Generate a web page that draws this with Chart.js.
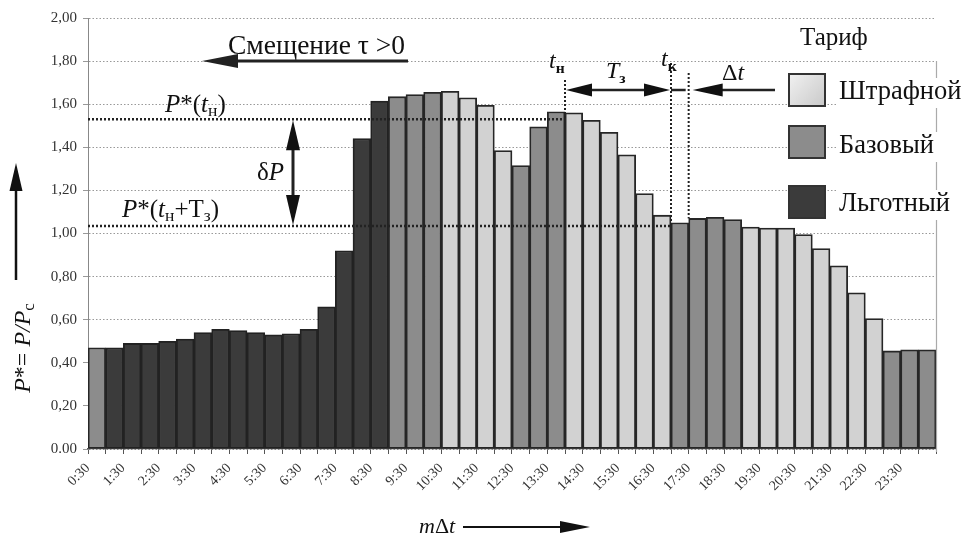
<!DOCTYPE html>
<html>
<head>
<meta charset="utf-8">
<script src="https://cdn.jsdelivr.net/npm/chart.js@4"></script>
<style>
html,body{margin:0;padding:0;background:#fff;}
#c{display:block;}
</style>
</head>
<body>
<canvas id="c" width="968" height="537"></canvas>
<script>
// ---- data ----
const labels = ['0:30','1:00','1:30','2:00','2:30','3:00','3:30','4:00','4:30','5:00','5:30','6:00',
  '6:30','7:00','7:30','8:00','8:30','9:00','9:30','10:00','10:30','11:00','11:30','12:00',
  '12:30','13:00','13:30','14:00','14:30','15:00','15:30','16:00','16:30','17:00','17:30','18:00',
  '18:30','19:00','19:30','20:00','20:30','21:00','21:30','22:00','22:30','23:00','23:30','24:00'];
const values = [0.47,0.47,0.49,0.49,0.50,0.51,0.54,0.555,0.55,0.54,0.53,0.535,
  0.555,0.66,0.92,1.44,1.615,1.635,1.645,1.655,1.66,1.63,1.595,1.385,
  1.315,1.495,1.565,1.56,1.525,1.47,1.365,1.185,1.085,1.05,1.07,1.075,
  1.065,1.03,1.025,1.025,0.995,0.93,0.85,0.725,0.605,0.455,0.46,0.46];
// Ш = Штрафной, Б = Базовый, Л = Льготный
const tariff = ['Б','Л','Л','Л','Л','Л','Л','Л','Л','Л','Л','Л',
  'Л','Л','Л','Л','Л','Б','Б','Б','Ш','Ш','Ш','Ш',
  'Б','Б','Б','Ш','Ш','Ш','Ш','Ш','Ш','Б','Б','Б',
  'Б','Ш','Ш','Ш','Ш','Ш','Ш','Ш','Ш','Б','Б','Б'];
const seriesNames = ['Штрафной','Базовый','Льготный'];
const seriesCodes = ['Ш','Б','Л'];
const yTickLabels = ['0.00','0,20','0,40','0,60','0,80','1,00','1,20','1,40','1,60','1,80','2,00'];
const P_tn = 1.53;     // P*(tн)
const P_tnT = 1.035;   // P*(tн+Tз)
const idx_tn = 27, idx_tk = 33, idx_dt = 34;  // bar edges of tн, tк, tк+Δt

// ---- styles ----
const FONT = '"Liberation Serif","DejaVu Serif",serif';
const fills = ['#d2d2d2','#8c8c8c','#3b3b3b'];
const borders = ['#262626','#262626','#222222'];

const datasets = seriesCodes.map((code,k)=>({
  label: seriesNames[k],
  data: values.map((v,i)=> tariff[i]===code ? v : null),
  backgroundColor: fills[k],
  borderColor: borders[k],
  borderWidth: 1.8,
  borderSkipped: false,
  categoryPercentage: 1.0,
  barPercentage: 1.0
}));

function rich(ctx, x, y, parts, size, align){
  let w = 0;
  const m = parts.map(p=>{
    const s = size*(p.s||1);
    const f = (p.i?'italic ':'') + (p.b?'bold ':'') + s + 'px ' + FONT;
    ctx.font = f;
    const ww = ctx.measureText(p.t).width;
    w += ww;
    return {f, ww, p};
  });
  let cx = align==='center' ? x - w/2 : (align==='right' ? x - w : x);
  ctx.textAlign = 'left';
  ctx.textBaseline = 'alphabetic';
  m.forEach(o=>{
    ctx.font = o.f;
    ctx.fillText(o.p.t, cx, y + (o.p.dy||0));
    cx += o.ww;
  });
}
function head(ctx, x2, y2, ang, len, hw){
  ctx.beginPath();
  ctx.moveTo(x2, y2);
  ctx.lineTo(x2 - len*Math.cos(ang) - hw*Math.sin(ang), y2 - len*Math.sin(ang) + hw*Math.cos(ang));
  ctx.lineTo(x2 - len*Math.cos(ang) + hw*Math.sin(ang), y2 - len*Math.sin(ang) - hw*Math.cos(ang));
  ctx.closePath();
  ctx.fill();
}
function arrow(ctx, x1, y1, x2, y2, len, hw, lw, both){
  const ang = Math.atan2(y2-y1, x2-x1);
  ctx.lineWidth = lw;
  ctx.setLineDash([]);
  ctx.beginPath();
  ctx.moveTo(x1 + (both? len*0.8*Math.cos(ang):0), y1 + (both? len*0.8*Math.sin(ang):0));
  ctx.lineTo(x2 - len*0.8*Math.cos(ang), y2 - len*0.8*Math.sin(ang));
  ctx.stroke();
  head(ctx, x2, y2, ang, len, hw);
  if (both) head(ctx, x1, y1, ang+Math.PI, len, hw);
}
function dotted(ctx, x1,y1,x2,y2, lw, dash){
  ctx.lineWidth = lw;
  ctx.setLineDash(dash);
  ctx.beginPath(); ctx.moveTo(x1,y1); ctx.lineTo(x2,y2); ctx.stroke();
  ctx.setLineDash([]);
}

const annot = {
  id:'annot',
  beforeDraw(chart){
    const ctx = chart.ctx;
    ctx.save(); ctx.fillStyle='#fff'; ctx.fillRect(0,0,chart.width,chart.height); ctx.restore();
  },
  afterDraw(chart){
    const ctx = chart.ctx, xs = chart.scales.x, ys = chart.scales.y;
    const bw = (xs.right - xs.left)/labels.length;
    const edge = i => xs.getPixelForValue(i) - bw/2;
    const tn = edge(idx_tn), tk = edge(idx_tk), td = edge(idx_dt);
    const yPn = ys.getPixelForValue(P_tn), yPk = ys.getPixelForValue(P_tnT);
    ctx.save();
    ctx.strokeStyle = '#222'; ctx.fillStyle = '#222';

    // right frame line
    ctx.strokeStyle = '#aaa';
    dotted(ctx, xs.right+0.5, ys.getPixelForValue(1.8), xs.right+0.5, ys.bottom+3, 1.2, []);
    ctx.strokeStyle = '#222';

    // horizontal P* lines
    dotted(ctx, xs.left, yPn, tn, yPn, 2.5, [2,2]);
    dotted(ctx, xs.left, yPk, tk, yPk, 2.5, [2,2]);
    // vertical t lines
    dotted(ctx, tn, 80, tn, yPn, 2, [2,2]);
    dotted(ctx, tk, 63, tk, yPk, 2, [2,2]);
    dotted(ctx, td, 73, td, ys.getPixelForValue(values[idx_dt]), 2, [2,2]);

    // Смещение arrow
    const y18 = ys.getPixelForValue(1.8);
    arrow(ctx, 408, y18, 202, y18, 36, 7, 3, false);
    ctx.fillStyle = '#111';
    rich(ctx, 228, 54, [{t:'Смещение τ >0'}], 27.5, 'left');

    // T_з arrow
    arrow(ctx, tn+1, 90, tk-1, 90, 26, 6.5, 2.5, true);
    // Δt
    dotted(ctx, tk, 90, td-3, 90, 2.5, []);
    arrow(ctx, 775, 90, td+4, 90, 30, 6.5, 2.5, false);

    // δP arrow
    arrow(ctx, 293, yPn+1, 293, yPk-1, 30, 7, 3, true);

    // texts
    ctx.fillStyle = '#111';
    rich(ctx, 165, 112, [{t:'P',i:1},{t:'*(',},{t:'t',i:1},{t:'н',s:0.7,dy:4},{t:')'}], 25, 'left');
    rich(ctx, 122, 217, [{t:'P',i:1},{t:'*(',},{t:'t',i:1},{t:'н',s:0.7,dy:4},{t:'+T'},{t:'з',s:0.7,dy:4},{t:')'}], 25, 'left');
    rich(ctx, 257, 180, [{t:'δ'},{t:'P',i:1}], 25, 'left');
    rich(ctx, 549, 68, [{t:'t',i:1},{t:'н',s:0.65,b:1,dy:5}], 24, 'left');
    rich(ctx, 606, 78, [{t:'T',i:1},{t:'з',s:0.65,b:1,dy:5}], 24, 'left');
    rich(ctx, 661, 66, [{t:'t',i:1},{t:'к',s:0.65,b:1,dy:5}], 24, 'left');
    rich(ctx, 722, 80, [{t:'Δ'},{t:'t',i:1}], 24, 'left');

    // legend
    rich(ctx, 800, 45, [{t:'Тариф'}], 25, 'left');
    const lg = [[73,99,'Штрафной'],[125,153,'Базовый'],[185,211,'Льготный']];
    lg.forEach((r,k)=>{
      ctx.font = '26.5px ' + FONT;
      const tw = ctx.measureText(r[2]).width;
      ctx.fillStyle = '#fff';
      ctx.fillRect(836, r[1]-21, tw+8, 30);
      if (k===0){
        const g = ctx.createLinearGradient(788, r[0], 826, r[0]+34);
        g.addColorStop(0,'#f2f2f2'); g.addColorStop(1,'#c8c8c8');
        ctx.fillStyle = g;
      } else ctx.fillStyle = fills[k];
      ctx.fillRect(788, r[0], 38, 34);
      ctx.strokeStyle = '#333'; ctx.lineWidth = 2; ctx.setLineDash([]);
      ctx.strokeRect(789, r[0]+1, 36, 32);
      ctx.fillStyle = '#111';
      rich(ctx, 839, r[1], [{t:r[2]}], 26.5, 'left');
    });

    // y-axis title + arrow
    ctx.fillStyle = '#111'; ctx.strokeStyle = '#111';
    arrow(ctx, 16, 280, 16, 163, 28, 6.5, 2.5, false);
    ctx.save();
    ctx.translate(30, 348);
    ctx.rotate(-Math.PI/2);
    rich(ctx, 0, 0, [{t:'P',i:1},{t:'*= '},{t:'P/P',i:1},{t:'с',s:0.7,dy:4}], 24, 'center');
    ctx.restore();

    // x-axis title + arrow
    rich(ctx, 419, 533, [{t:'m',i:1},{t:'Δ'},{t:'t',i:1}], 22, 'left');
    arrow(ctx, 463, 527, 590, 527, 30, 6, 2, false);

    ctx.restore();
  }
};

new Chart(document.getElementById('c'), {
  type:'bar',
  data:{labels, datasets},
  options:{
    responsive:false,
    animation:false,
    devicePixelRatio:1,
    layout:{padding:{top:18,right:32,left:0,bottom:0}},
    plugins:{legend:{display:false}, tooltip:{enabled:false}},
    scales:{
      x:{
        stacked:true,
        grid:{offset:true, drawOnChartArea:false, drawTicks:true, tickLength:5, color:'#555'},
        border:{color:'#555', width:1.2},
        ticks:{autoSkip:false, minRotation:45, maxRotation:45, labelOffset:-9, padding:6,
          font:{family:FONT, size:14}, color:'#333',
          callback:(v,i)=> i%2===0 ? labels[i] : ''},
        afterFit:s=>{ s.height = 88; }
      },
      y:{
        stacked:true, min:0, max:2,
        grid:{color:'#999', lineWidth:1, tickLength:5, drawTicks:true},
        border:{color:'#888', dash:[1.5,2], width:1},
        ticks:{stepSize:0.2, padding:6, font:{family:FONT, size:15}, color:'#333',
          callback:(v)=> yTickLabels[Math.round(v/0.2)]},
        afterFit:s=>{ s.width = 88; }
      }
    }
  },
  plugins:[annot]
});
</script>
</body>
</html>
